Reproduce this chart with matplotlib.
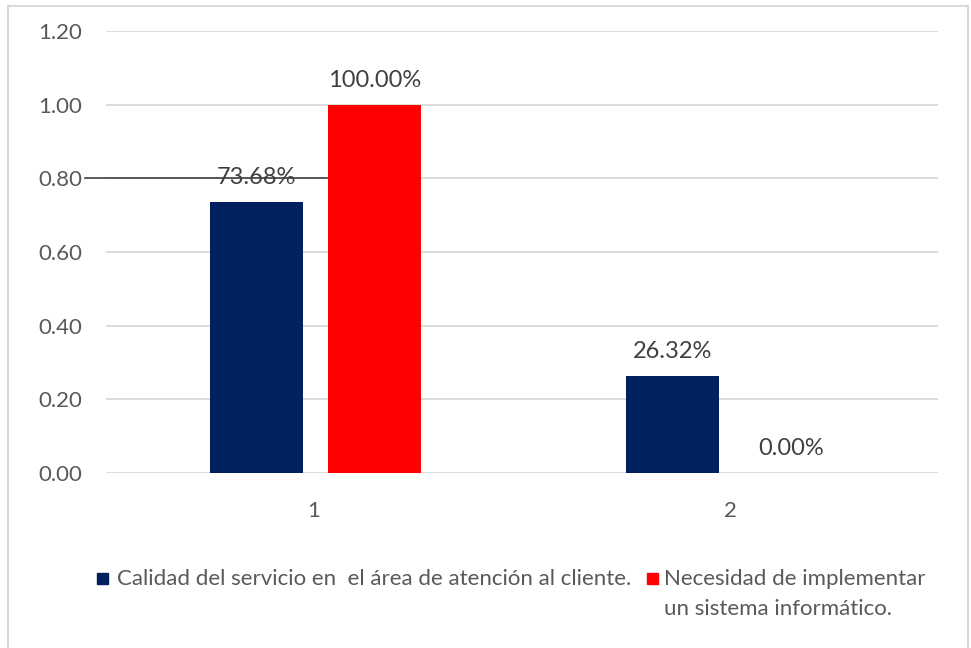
import numpy as np
import matplotlib.pyplot as plt
from matplotlib.patches import Rectangle

# categorías y valores de cada serie
categories = ["1", "2"]
calidad = [0.7368, 0.2632]
necesidad = [1.00, 0.00]
series_names = ["Calidad del servicio en  el área de atención al cliente.",
                "Necesidad de implementar\nun sistema informático."]
yticks = [0.00, 0.20, 0.40, 0.60, 0.80, 1.00, 1.20]

plt.rcParams['font.family'] = ['Lato', 'DejaVu Sans']
text_color = '#595959'
azul = '#002060'
rojo = '#FF0000'

fig = plt.figure(figsize=(9.71, 6.48), dpi=100)
ax = fig.add_axes([0.1092, 0.270, 0.8568, 0.682])

x = np.arange(1, len(categories) + 1)
width = 0.224
offset = 0.142

# línea de referencia en 0.80
ax.plot([0.4495, 1 + offset - width / 2], [0.80, 0.80], color='#404040',
        linewidth=1.2, clip_on=False, zorder=2)

b1 = ax.bar(x - offset + 0.004, calidad, width, color=azul, zorder=3)
b2 = ax.bar(x + offset + 0.004, necesidad, width, color=rojo, zorder=3)

for bars, vals in ((b1, calidad), (b2, necesidad)):
    for rect, v in zip(bars, vals):
        ax.annotate('%.2f%%' % (v * 100),
                    (rect.get_x() + rect.get_width() / 2, v),
                    xytext=(0, 10), textcoords='offset points',
                    ha='center', va='bottom', fontsize=17, color='#404040', zorder=4)

ax.set_xlim(0.5, 2.5)
ax.set_ylim(0, 1.2)
ax.set_yticks(yticks)
ax.set_yticklabels(['%.2f' % t for t in yticks])
ax.set_xticks(x)
ax.set_xticklabels(categories)
ax.grid(axis='y', color='#d9d9d9', linewidth=1.3, zorder=0)
ax.set_axisbelow(True)
for s in ax.spines.values():
    s.set_visible(False)
ax.tick_params(axis='y', length=0, pad=17, labelsize=16, labelcolor=text_color)
ax.tick_params(axis='x', length=0, pad=20, labelsize=16, labelcolor=text_color)

# leyenda
W, H = 971, 648
for (px, tx), name, col in zip([(97, 117), (647, 664)], series_names, [azul, rojo]):
    fig.patches.append(Rectangle((px / W, 1 - 584 / H), 11 / W, 11 / H,
                                 transform=fig.transFigure, color=col))
    fig.text(tx / W, 1 - 569 / H, name, ha='left', va='top', fontsize=16,
             color=text_color, linespacing=1.6)

# borde del gráfico
fig.patches.append(Rectangle((8 / W, -0.01), 960 / W, 1 - 6 / H + 0.01,
                             transform=fig.transFigure, fill=False,
                             edgecolor='#d9d9d9', linewidth=1.5))

plt.savefig('out.png', dpi=100)
